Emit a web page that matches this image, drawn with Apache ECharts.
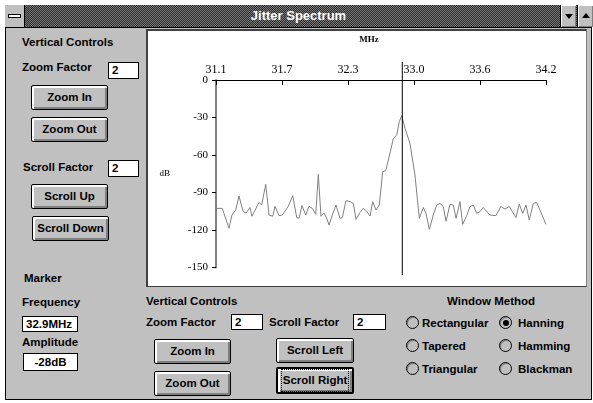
<!DOCTYPE html>
<html>
<head>
<meta charset="utf-8">
<title>Jitter Spectrum</title>
<script src="https://cdn.jsdelivr.net/npm/echarts@6.0.0/dist/echarts.min.js"></script>
<style>
body { margin:0; background:#fff; width:593px; height:403px; overflow:hidden; position:relative; }
#win { position:absolute; left:5px; top:5px; width:585px; height:393px; border:1px solid #000; background:#c0c0c0; }
#title { position:absolute; left:5px; top:5px; width:587px; height:22px; border-bottom:1px solid #000;
  background: repeating-conic-gradient(#2a2a2a 0 25%, #7a7a7a 0 50%) 0 0/2px 2px; }
#title .t { position:absolute; left:0; right:0; top:3px; text-align:center; color:#fff; font:bold 13px 'Liberation Sans'; }
.sys { position:absolute; left:0; top:0; width:19px; height:22px; background:#c0c0c0; border-right:1px solid #000; }
.sys i { position:absolute; left:3px; top:9px; width:11px; height:2px; background:#fff; border:1px solid #000; }
.tb { position:absolute; top:0; width:15px; height:22px; background:#c0c0c0; border-left:1px solid #000;
  box-shadow: inset 1px 1px #fff, inset -1px -1px #808080; }
.tb i { position:absolute; left:4px; top:9px; width:0; height:0; border-left:4px solid transparent; border-right:4px solid transparent; }
.lbl { position:absolute; font:bold 11.5px 'Liberation Sans'; color:#000; line-height:14px; white-space:nowrap; }
.box { position:absolute; background:#fff; border:1px solid #000; font:bold 11.5px 'Liberation Sans'; line-height:14px; padding-left:3px; box-sizing:border-box; }
.btn { position:absolute; box-sizing:border-box; border:1px solid #000; border-radius:2px; background:#c0c0c0;
  box-shadow: inset 1px 1px #fff, inset 2px 2px #fff, inset -1px -1px #808080, inset -2px -2px #808080;
  font:bold 11.5px 'Liberation Sans'; text-align:center; }
.btn.def { border:2px solid #000; }
.btn span { display:inline-block; }
.btn.def span { border:1px dotted #000; padding:0 1px; }
.rad { position:absolute; width:13px; height:13px; box-sizing:border-box; border:1px solid #000; border-radius:50%; background:#c0c0c0;
  box-shadow: inset 1px 1px #808080; }
.rad.on::after { content:''; position:absolute; left:2.5px; top:2.5px; width:6px; height:6px; border-radius:50%; background:#000; }
#panel { position:absolute; left:146px; top:29px; width:441px; height:258px; box-sizing:border-box; background:#fff;
  border-left:2px solid #404040; border-top:2px solid #404040; border-right:1px solid #808080; border-bottom:1px solid #404040; }
#main { position:absolute; left:0; top:0; width:593px; height:403px; pointer-events:none; }
</style>
</head>
<body>
<div id="win"></div>
<div id="title">
  <div class="sys"><i></i></div>
  <div class="t">Jitter Spectrum</div>
  <div class="tb" style="left:555px"><i style="border-top:5px solid #000"></i></div>
  <div class="tb" style="left:572px"><i style="border-bottom:5px solid #000; top:8px"></i></div>
</div>

<!-- left side: vertical controls -->
<div class="lbl" style="left:22px;top:35px">Vertical Controls</div>
<div class="lbl" style="left:22px;top:60px">Zoom Factor</div>
<div class="box" style="left:108px;top:62px;width:31px;height:17px">2</div>
<div class="btn" style="left:31px;top:85px;width:77px;height:25px;line-height:23px"><span>Zoom In</span></div>
<div class="btn" style="left:31px;top:117px;width:77px;height:25px;line-height:23px"><span>Zoom Out</span></div>
<div class="lbl" style="left:23px;top:160px">Scroll Factor</div>
<div class="box" style="left:108px;top:160px;width:31px;height:17px">2</div>
<div class="btn" style="left:31px;top:184px;width:77px;height:25px;line-height:23px"><span>Scroll Up</span></div>
<div class="btn" style="left:32px;top:216px;width:77px;height:25px;line-height:23px"><span>Scroll Down</span></div>

<!-- marker readout -->
<div class="lbl" style="left:24px;top:271px">Marker</div>
<div class="lbl" style="left:22px;top:295px">Frequency</div>
<div class="box" style="left:22px;top:316px;width:56px;height:16px">32.9MHz</div>
<div class="lbl" style="left:22px;top:335px">Amplitude</div>
<div class="box" style="left:23px;top:353px;width:55px;height:18px;text-align:center;padding:1px 0 0 0">-28dB</div>

<!-- chart panel -->
<div id="panel"></div>

<!-- bottom controls -->
<div class="lbl" style="left:146px;top:294px">Vertical Controls</div>
<div class="lbl" style="left:146px;top:315px">Zoom Factor</div>
<div class="box" style="left:231px;top:314px;width:32px;height:16px">2</div>
<div class="lbl" style="left:269px;top:315px">Scroll Factor</div>
<div class="box" style="left:353px;top:314px;width:33px;height:16px">2</div>
<div class="btn" style="left:154px;top:339px;width:77px;height:25px;line-height:23px"><span>Zoom In</span></div>
<div class="btn" style="left:154px;top:371px;width:77px;height:25px;line-height:23px"><span>Zoom Out</span></div>
<div class="btn" style="left:276px;top:338px;width:78px;height:25px;line-height:23px"><span>Scroll Left</span></div>
<div class="btn def" style="left:276px;top:367px;width:78px;height:27px;line-height:21px"><span>Scroll Right</span></div>

<!-- window method -->
<div class="lbl" style="left:447px;top:294px">Window Method</div>
<div class="rad" style="left:406px;top:316px"></div><div class="lbl" style="left:422px;top:316px">Rectangular</div>
<div class="rad on" style="left:499px;top:316px"></div><div class="lbl" style="left:518px;top:316px">Hanning</div>
<div class="rad" style="left:406px;top:339px"></div><div class="lbl" style="left:422px;top:339px">Tapered</div>
<div class="rad" style="left:499px;top:339px"></div><div class="lbl" style="left:518px;top:339px">Hamming</div>
<div class="rad" style="left:406px;top:362px"></div><div class="lbl" style="left:422px;top:362px">Triangular</div>
<div class="rad" style="left:499px;top:362px"></div><div class="lbl" style="left:518px;top:362px">Blackman</div>

<div id="main"></div>
<script type="text/javascript">
// spectrum samples (MHz, dB)
var freqs = [31.100, 31.159, 31.222, 31.250, 31.285, 31.316, 31.354, 31.382, 31.419, 31.438,
    31.504, 31.529, 31.542, 31.567, 31.598, 31.633, 31.654, 31.692, 31.723, 31.779,
    31.821, 31.858, 31.880, 31.908, 31.943, 31.974, 32.008, 32.037, 32.061, 32.086,
    32.115, 32.140, 32.162, 32.193, 32.227, 32.265, 32.287, 32.321, 32.359, 32.390,
    32.415, 32.453, 32.484, 32.516, 32.547, 32.572, 32.603, 32.634, 32.666, 32.694,
    32.728, 32.766, 32.798, 32.822, 32.845, 32.876, 32.922, 32.969, 33.010, 33.047,
    33.073, 33.104, 33.141, 33.173, 33.204, 33.235, 33.261, 33.298, 33.329, 33.355,
    33.392, 33.417, 33.455, 33.486, 33.517, 33.549, 33.580, 33.610, 33.674, 33.730,
    33.775, 33.815, 33.855, 33.918, 33.949, 33.981, 34.012, 34.043, 34.081, 34.113, 34.200];
var dbs = [-102.7, -102.7, -118.6, -108, -104, -92.8, -105, -106.5, -102, -109,
    -98, -100, -98.6, -83.5, -108, -109, -101, -108.5, -108, -101,
    -92.5, -110, -110.7, -100.5, -108, -101, -103, -107.5, -75.5, -109,
    -106.5, -110.7, -116, -108, -100, -110.7, -110, -96.5, -97.3, -98.7,
    -111.5, -106, -102.7, -105, -108.8, -97.3, -104, -100, -73.3, -72.5,
    -61, -46.7, -44, -33.3, -28.5, -38.7, -50.7, -76, -110.7, -102,
    -106.7, -119.5, -108, -100, -98.7, -101.3, -113, -99.5, -100, -110.7,
    -97.3, -115.5, -108.5, -101.3, -100, -106.7, -105.3, -102, -108, -108.5,
    -101.3, -103.2, -101.3, -110, -99.2, -106.7, -100, -112, -98.7, -98, -115.5];

var xTicks = [31.1, 31.72, 32.34, 32.96, 33.58, 34.2];
var xTickLabels = ['31.1', '31.7', '32.3', '33.0', '33.6', '34.2'];
var yMin = -150, yMax = 0, yStep = 30;
var markerFreq = 32.85;

var pts = freqs.map(function (f, i) { return [f, dbs[i]]; });

var myChart = echarts.init(document.getElementById('main'), null, {renderer: 'canvas'});
myChart.setOption({
    backgroundColor: 'transparent',
    animation: false,
    grid: [
        {left: 216, right: 47, top: 80, bottom: 135.5},
        {left: 216, right: 47, top: 62, bottom: 128}   // marker line reaches past the axes
    ],
    xAxis: [{
        type: 'value', position: 'top', min: 31.1, max: 34.2,
        name: 'MHz', nameLocation: 'middle', nameGap: 36,
        nameTextStyle: {fontFamily: 'Liberation Serif', fontSize: 9, fontWeight: 'bold', color: '#000', padding: [0, 24, 0, 0]},
        axisLine: {onZero: false, lineStyle: {color: '#000', width: 1}},
        axisTick: {inside: true, length: 5, customValues: xTicks, lineStyle: {color: '#000'}},
        axisLabel: {
            customValues: xTicks, margin: 4, fontFamily: 'Liberation Serif', fontSize: 12, color: '#000',
            formatter: function (v) {
                for (var i = 0; i < xTicks.length; i++) {
                    if (Math.abs(xTicks[i] - v) < 1e-6) return xTickLabels[i];
                }
                return '';
            }
        },
        splitLine: {show: false}
    }, {
        gridIndex: 1, type: 'value', min: 31.1, max: 34.2, show: false
    }],
    yAxis: [{
        type: 'value', min: yMin, max: yMax, interval: yStep,
        name: 'dB', nameLocation: 'middle', nameGap: 46, nameRotate: 0,
        nameTextStyle: {fontFamily: 'Liberation Serif', fontSize: 9, color: '#000'},
        axisLine: {onZero: false, lineStyle: {color: '#808080', width: 2}},
        axisTick: {length: 4, lineStyle: {color: '#000'}},
        axisLabel: {margin: 8, fontFamily: 'Liberation Serif', fontSize: 11, color: '#000'},
        splitLine: {show: false}
    }, {
        gridIndex: 1, type: 'value', min: 0, max: 1, show: false
    }],
    series: [{
        type: 'line', data: pts, symbol: 'none', silent: true,
        lineStyle: {color: '#808080', width: 1}
    }, {
        type: 'line', xAxisIndex: 1, yAxisIndex: 1, z: 5,
        data: [[markerFreq, 0], [markerFreq, 1]], symbol: 'none', silent: true,
        lineStyle: {color: '#000', width: 1}
    }]
});
</script>
</body>
</html>
